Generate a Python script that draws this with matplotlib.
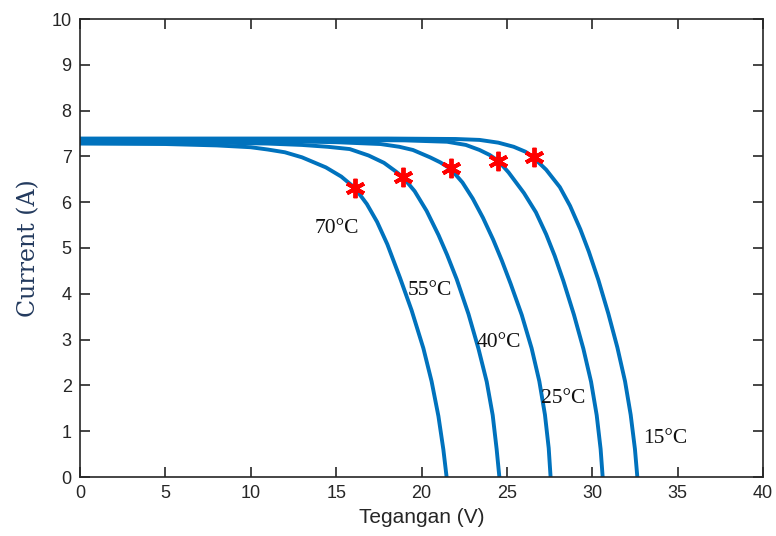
"""I-V curves of a PV module at different temperatures, with MPP markers."""
import matplotlib
matplotlib.use("Agg")
import matplotlib.pyplot as plt

LINE_COLOR = "#0072BD"

# curves: voltage (V) / current (A) per temperature
TEMPS = ["70°C", "55°C", "40°C", "25°C", "15°C"]

V_70 = [0, 5, 8, 10, 11, 12, 13, 14.4, 15.3, 16.1, 16.8, 17.4, 18.0,
        18.74, 19.42, 20.11, 20.59, 20.99, 21.28, 21.47]
I_70 = [7.28, 7.27, 7.24, 7.20, 7.15, 7.09, 6.98, 6.76, 6.56, 6.31, 5.96, 5.57, 5.08,
        4.35, 3.64, 2.81, 2.09, 1.33, 0.60, 0]

V_55 = [0, 8, 11, 13, 14.5, 15.8, 16.9, 17.8, 18.5, 18.93, 19.6, 20.3, 21.0, 21.5,
        22.06, 22.75, 23.33, 23.82, 24.17, 24.40, 24.56]
I_55 = [7.31, 7.30, 7.28, 7.25, 7.21, 7.16, 7.02, 6.86, 6.67, 6.54, 6.24, 5.81, 5.28, 4.85,
        4.32, 3.56, 2.81, 2.08, 1.35, 0.61, 0]

V_40 = [0, 12, 15, 17.6, 18.7, 19.5, 20.5, 21.1, 21.7, 22.4, 23.0, 23.6, 24.2, 24.7,
        25.22, 25.87, 26.45, 26.90, 27.23, 27.45, 27.56]
I_40 = [7.34, 7.33, 7.31, 7.27, 7.21, 7.14, 6.98, 6.87, 6.73, 6.43, 6.08, 5.66, 5.18, 4.73,
        4.22, 3.54, 2.81, 2.09, 1.36, 0.63, 0]

V_25 = [0, 15, 19, 21.5, 22.6, 23.4, 24.0, 24.5, 25.1, 26.0, 26.7, 27.3, 27.8,
        28.31, 28.93, 29.48, 29.93, 30.26, 30.49, 30.61]
I_25 = [7.36, 7.36, 7.35, 7.32, 7.25, 7.14, 7.03, 6.90, 6.65, 6.20, 5.78, 5.30, 4.83,
        4.28, 3.54, 2.80, 2.08, 1.35, 0.61, 0]

V_15 = [0, 18, 22, 23.4, 24.5, 25.4, 26.1, 26.6, 27.3, 28.1, 28.7, 29.3, 29.8,
        30.36, 30.94, 31.47, 31.92, 32.25, 32.50, 32.64]
I_15 = [7.39, 7.39, 7.38, 7.36, 7.30, 7.21, 7.10, 6.96, 6.71, 6.33, 5.92, 5.41, 4.92,
        4.30, 3.57, 2.83, 2.09, 1.36, 0.61, 0]

# maximum power points
MPP_V = [16.1, 18.93, 21.7, 24.5, 26.6]
MPP_I = [6.31, 6.54, 6.74, 6.91, 6.98]

# label anchor positions (data coords)
LABEL_V = [15.05, 20.5, 24.51, 28.29, 34.26]
LABEL_I = [5.43, 4.08, 2.94, 1.72, 0.84]


def main() -> None:
    plt.rcParams["font.family"] = ["Liberation Sans", "DejaVu Sans"]
    fig = plt.figure(figsize=(7.76, 5.36), dpi=100)
    ax = fig.add_axes([80 / 776, 59 / 536, 683 / 776, 458 / 536])

    curves = [(V_70, I_70), (V_55, I_55), (V_40, I_40), (V_25, I_25), (V_15, I_15)]
    for v, i in curves:
        ax.plot(v, i, color=LINE_COLOR, lw=2.8, solid_joinstyle="round")

    ax.plot(MPP_V, MPP_I, ls="none", marker=(6, 2, 0), ms=14, mew=2.8,
            color="#ff0000", zorder=5)

    for t, lv, li in zip(TEMPS, LABEL_V, LABEL_I):
        ax.text(lv, li, t, ha="center", va="center", fontsize=15.5,
                family=["Liberation Serif", "DejaVu Serif"], color="#111111")

    ax.set_xlim(0, 40)
    ax.set_ylim(0, 10)
    ax.set_xticks(range(0, 41, 5))
    ax.set_yticks(range(0, 11))
    ax.tick_params(direction="in", length=7, width=1.2, top=True, right=True,
                   labelsize=13, labelcolor="#262626", color="#262626", pad=6)
    for sp in ax.spines.values():
        sp.set_color("#262626")
        sp.set_linewidth(1.2)

    ax.set_xlabel("Tegangan (V)", fontsize=15, color="#262626", labelpad=4)
    ax.set_ylabel("Current (A)", fontsize=17, family=["DejaVu Serif"],
                  color="#233a5e", labelpad=8)

    fig.savefig("out.png", dpi=100)
    plt.close(fig)


if __name__ == "__main__":
    main()
